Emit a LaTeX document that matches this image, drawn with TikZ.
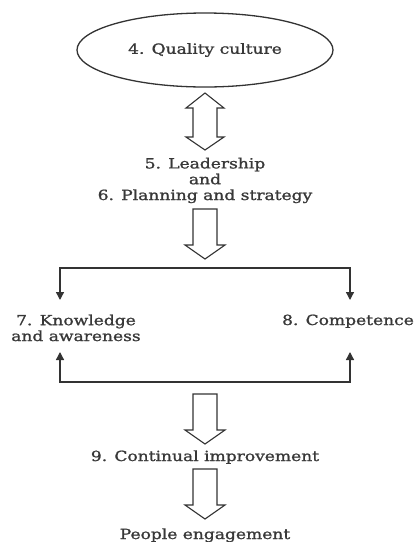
\documentclass[tikz,border=0pt]{standalone}
\usepackage{fontspec}
\setmainfont{DejaVu Serif}[FakeStretch=1.22,FakeBold=1.2]
\usetikzlibrary{arrows.meta,shapes.geometric}
\begin{document}
\begin{tikzpicture}[x=1pt,y=-1pt,
  line width=1.1pt,
  txt/.style={font=\fontsize{14}{15.8}\selectfont, text=black!78, align=center, inner sep=0pt},
  bracket/.style={draw=black!80, line width=1.3pt, -{Triangle[length=8pt,width=8pt]}},
  blockdown/.pic={
    \draw[black!80, fill=white, line width=1.1pt]
      (-12,0) -- (12,0) -- (12,36) -- (20,36) -- (0,50) -- (-20,36) -- (-12,36) -- cycle;
  },
  blockboth/.pic={
    \draw[black!80, fill=white, line width=1.1pt]
      (0,0) -- (19,15) -- (12,15) -- (12,44) -- (19,44) -- (0,57)
      -- (-19,44) -- (-12,44) -- (-12,15) -- (-19,15) -- cycle;
  }]
\useasboundingbox (0,0) rectangle (414,542);

% top ellipse
\node (qc) [draw=black!80, ellipse, minimum width=256pt, minimum height=74pt,
  txt, line width=1.3pt] at (205,50) {4. Quality culture};

% two-way arrow below the ellipse
\pic at (205,93) {blockboth};

\node (lead) [txt, anchor=base] at (205,200) {5. Leadership\\and\\6. Planning and strategy};

\pic at (205,209) {blockdown};

% split into the two branches
\coordinate (tl) at (60,268);
\coordinate (tr) at (350,268);
\coordinate (bl) at (60,382);
\coordinate (br) at (350,382);

\node (know) [txt, anchor=base] at (76,341) {7. Knowledge\\and awareness};
\node (comp) [txt, anchor=base] at (348,325) {8. Competence};

\draw[bracket] (205,268) -- (tl) -- (60,300);
\draw[bracket] (205,268) -- (tr) -- (350,300);
\draw[bracket] (205,382) -- (bl) -- (60,352);
\draw[bracket] (205,382) -- (br) -- (350,352);

\pic at (205,394) {blockdown};
\node (ci) [txt, anchor=base] at (205,461) {9. Continual improvement};
\pic at (205,469) {blockdown};
\node (pe) [txt, anchor=base] at (205,539) {People engagement};
\end{tikzpicture}
\end{document}
